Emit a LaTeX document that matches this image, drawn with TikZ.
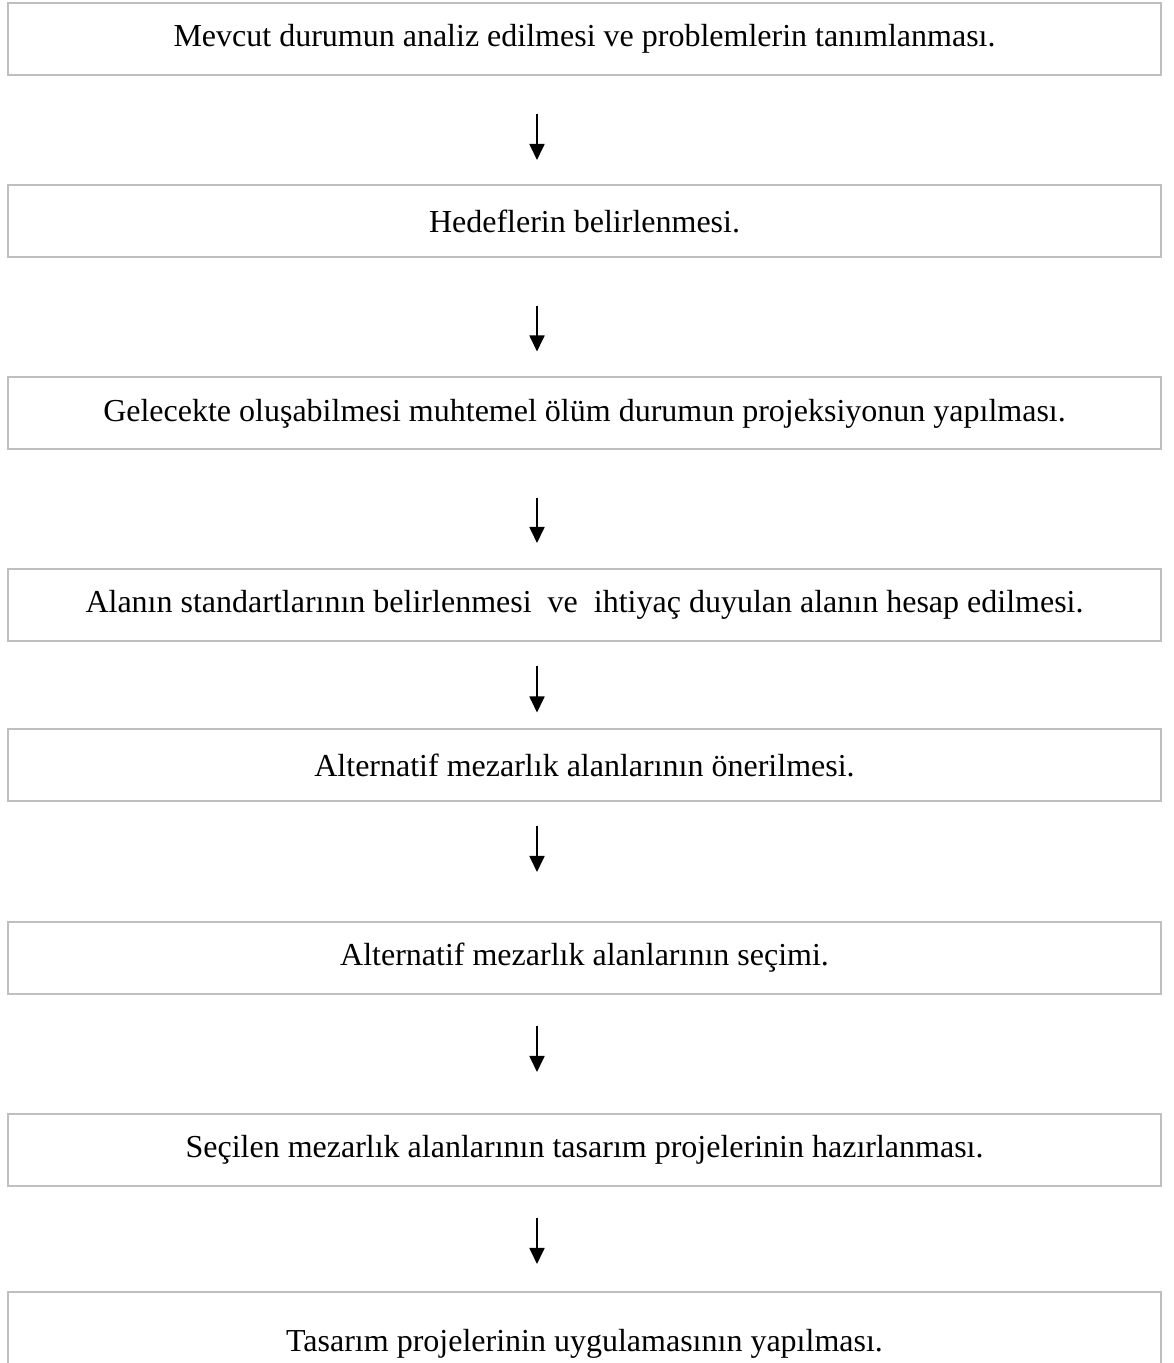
\documentclass[tikz,border=0pt]{standalone}
\usepackage{fontspec}
\setmainfont{Liberation Serif}
\usepackage{tikz}
\usetikzlibrary{arrows.meta}
\usetikzlibrary{positioning}
\tikzstyle{stage}=[draw=black!25, line width=2pt, minimum width=1153pt,
    minimum height=72pt, inner sep=0pt, font=\fontsize{32}{38}\selectfont]
\tikzstyle{flow}=[-{Triangle[length=16pt,width=15pt]}, line width=1.8pt]

\begin{document}
\begin{tikzpicture}[x=1pt,y=1pt]
          \clip (0,0) rectangle (1173,1363);
          \coordinate (ax) at (537,0);
          \node[stage] (st1) at (584.5,1324){Mevcut durumun analiz edilmesi ve problemlerin tanımlanması.};
          \node[stage] (st2) at (584.5,1142){Hedeflerin belirlenmesi.};
          \node[stage] (st3) at (584.5,949.5){Gelecekte oluşabilmesi muhtemel ölüm durumun projeksiyonun yapılması.};
          \node[stage] (st4) at (584.5,758){Alanın standartlarının belirlenmesi\ \ ve\ \ ihtiyaç duyulan alanın hesap edilmesi.};
          \node[stage] (st5) at (584.5,597.5){Alternatif mezarlık alanlarının önerilmesi.};
          \node[stage] (st6) at (584.5,405){Alternatif mezarlık alanlarının seçimi.};
          \node[stage] (st7) at (584.5,213){Seçilen mezarlık alanlarının tasarım projelerinin hazırlanması.};
          \node[stage, minimum height=104pt] (st8) at (584.5,19){Tasarım projelerinin uygulamasının yapılması.};
          \draw[flow, shorten <=38pt, shorten >=24pt](st1.south -| ax) -- (st2.north -| ax);
          \draw[flow, shorten <=48pt, shorten >=25pt](st2.south -| ax) -- (st3.north -| ax);
          \draw[flow, shorten <=48pt, shorten >=25pt](st3.south -| ax) -- (st4.north -| ax);
          \draw[flow, shorten <=24pt, shorten >=16pt](st4.south -| ax) -- (st5.north -| ax);
          \draw[flow, shorten <=24pt, shorten >=49pt](st5.south -| ax) -- (st6.north -| ax);
          \draw[flow, shorten <=31pt, shorten >=41pt](st6.south -| ax) -- (st7.north -| ax);
          \draw[flow, shorten <=31pt, shorten >=27pt](st7.south -| ax) -- (st8.north -| ax);
        \end{tikzpicture}
\end{document}
